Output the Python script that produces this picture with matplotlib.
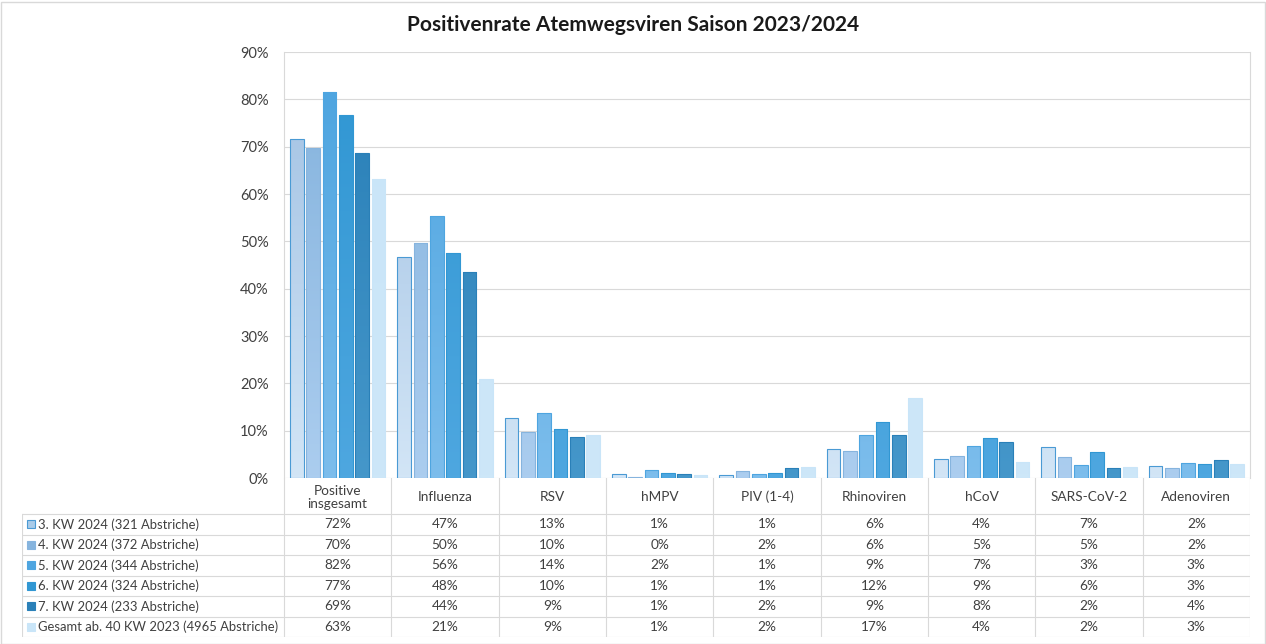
import matplotlib.pyplot as plt
import matplotlib.colors as mcolors
import numpy as np
from matplotlib.patches import Rectangle

plt.rcParams['font.family'] = ['Lato', 'DejaVu Sans']

categories = ['Positive\ninsgesamt', 'Influenza', 'RSV', 'hMPV', 'PIV (1-4)',
              'Rhinoviren', 'hCoV', 'SARS-CoV-2', 'Adenoviren']
series = ['3. KW 2024 (321 Abstriche)', '4. KW 2024 (372 Abstriche)',
          '5. KW 2024 (344 Abstriche)', '6. KW 2024 (324 Abstriche)',
          '7. KW 2024 (233 Abstriche)', 'Gesamt ab. 40 KW 2023 (4965 Abstriche)']

# bar heights (percent)
kw3 = [71.7, 46.6, 12.7, 0.8, 0.6, 6.1, 4.0, 6.6, 2.5]
kw4 = [69.8, 49.7, 9.7, 0.3, 1.5, 5.8, 4.7, 4.4, 2.1]
kw5 = [81.6, 55.4, 13.7, 1.7, 0.9, 9.1, 6.8, 2.8, 3.2]
kw6 = [76.7, 47.6, 10.4, 1.1, 1.1, 11.9, 8.5, 5.5, 3.0]
kw7 = [68.7, 43.6, 8.7, 0.9, 2.1, 9.1, 7.6, 2.2, 3.8]
gesamt = [63.2, 20.9, 9.1, 0.6, 2.3, 16.8, 3.4, 2.3, 3.0]
values = [kw3, kw4, kw5, kw6, kw7, gesamt]

# table texts as printed
table_text = [
    ['72%', '47%', '13%', '1%', '1%', '6%', '4%', '7%', '2%'],
    ['70%', '50%', '10%', '0%', '2%', '6%', '5%', '5%', '2%'],
    ['82%', '56%', '14%', '2%', '1%', '9%', '7%', '3%', '3%'],
    ['77%', '48%', '10%', '1%', '1%', '12%', '9%', '6%', '3%'],
    ['69%', '44%', '9%', '1%', '2%', '9%', '8%', '2%', '4%'],
    ['63%', '21%', '9%', '1%', '2%', '17%', '4%', '2%', '3%'],
]

# (top colour, bottom colour, edge colour)
styles = [('#a4c3e4', '#d2e5f6', '#4a9ad4'),
          ('#86b4de', '#abcdef', '#86b4de'),
          ('#4ea5e0', '#7cbdec', '#4ea5e0'),
          ('#3197d3', '#4ea7e0', '#3197d3'),
          ('#2a80b8', '#4597ca', '#2a80b8'),
          ('#c9e5f8', '#cde7f8', '#c9e5f8')]
legend_colors = ['#a9cbe9', '#86b4de', '#4ea5e0', '#3197d3', '#2a80b8', '#c9e5f8']

W, H = 1266, 644
fig = plt.figure(figsize=(W / 100, H / 100), dpi=100)
fig.patches.append(Rectangle((0.5 / W, 0.5 / H), 1 - 2 / W, 1 - 2 / H,
                             transform=fig.transFigure, fill=False,
                             edgecolor='#d9d9d9', linewidth=1))

x0, x1, ytop, ybot = 284, 1250, 52, 478
ax = fig.add_axes([x0 / W, 1 - ybot / H, (x1 - x0) / W, (ybot - ytop) / H])

n = len(categories)
x = np.arange(n)
pitch = 0.152
bw = 0.128
for i, vals in enumerate(values):
    top, bottom, edge = styles[i]
    cmap = mcolors.LinearSegmentedColormap.from_list('g%d' % i, [bottom, top])
    bars = ax.bar(x + (i - 2.5) * pitch, vals, width=bw, color=top,
                  edgecolor=edge, linewidth=0.8, zorder=3)
    grad = np.linspace(0, 1, 100).reshape(-1, 1)
    for b in bars:
        bx = b.get_x()
        im = ax.imshow(grad, cmap=cmap, aspect='auto', origin='lower',
                       extent=[bx, bx + b.get_width(), 0, 82],
                       zorder=3.5, interpolation='bilinear')
        im.set_clip_path(b)
        b.set_facecolor('none')
        b.set_zorder(4)

ax.set_xlim(-0.5, n - 0.5)
ax.set_ylim(0, 90)
ax.set_yticks(np.arange(0, 91, 10))
ax.set_yticklabels(['%d%%' % v for v in range(0, 91, 10)])
ax.tick_params(axis='y', length=0, pad=11, labelsize=10.5, labelcolor='#404040')
ax.set_xticks([])
ax.grid(axis='y', color='#d9d9d9', linewidth=0.8, zorder=0)
for s in ['top', 'bottom']:
    ax.spines[s].set_visible(False)
for s in ['left', 'right']:
    ax.spines[s].set_color('#d9d9d9')
    ax.spines[s].set_linewidth(0.8)

fig.text(0.5, 1 - 25 / H, 'Positivenrate Atemwegsviren Saison 2023/2024',
         ha='center', va='center', fontsize=15, fontweight='bold', color='#1a1a1a')

# data table below the plot
tl, tb = 22, 637
tax = fig.add_axes([tl / W, 1 - tb / H, (x1 - tl) / W, (tb - ybot) / H])
col_w = (x1 - x0) / n
left_edge = -0.5 - (x0 - tl) / col_w
head_h = 36 / 20.5
tax.set_xlim(left_edge, n - 0.5)
tax.set_ylim(len(series), -head_h)
tax.axis('off')
lc = '#d9d9d9'
for k in range(n + 1):
    tax.plot([k - 0.5, k - 0.5], [-head_h, len(series)], color=lc, lw=0.8)
tax.plot([left_edge, left_edge], [0, len(series)], color=lc, lw=0.8)
for r in range(len(series) + 1):
    tax.plot([left_edge, n - 0.5], [r, r], color=lc, lw=0.8)
for j, c in enumerate(categories):
    tax.text(j, -head_h / 2 + 0.05, c, ha='center', va='center', fontsize=9.8,
             color='#404040', linespacing=1.1)
for r, name in enumerate(series):
    tax.add_patch(Rectangle((left_edge + 0.045, r + 0.3), 0.08, 0.4,
                            facecolor=legend_colors[r],
                            edgecolor='#4a9ad4' if r == 0 else legend_colors[r],
                            linewidth=0.8))
    tax.text(left_edge + 0.15, r + 0.5, name, ha='left', va='center',
             fontsize=9.4, color='#404040')
    for j in range(n):
        tax.text(j, r + 0.5, table_text[r][j], ha='center', va='center',
                 fontsize=9.8, color='#404040')

fig.savefig('out.png', dpi=100)
